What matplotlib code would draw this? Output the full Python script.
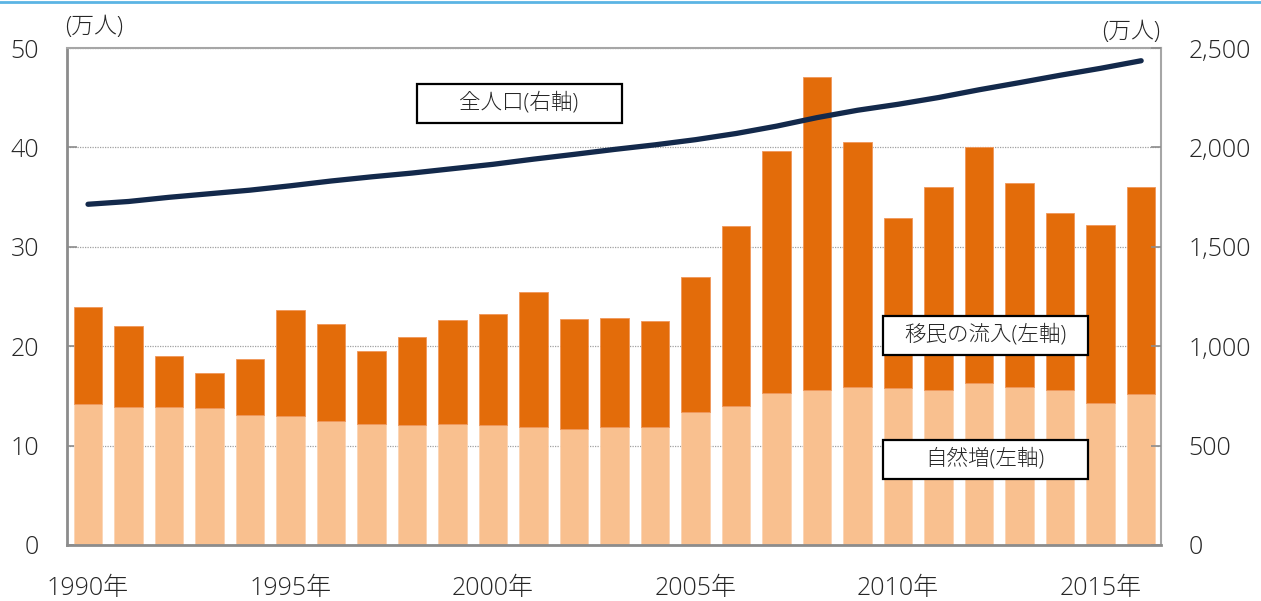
import matplotlib.pyplot as plt
from matplotlib.patches import Rectangle
from matplotlib.lines import Line2D
from matplotlib.ticker import FuncFormatter

plt.rcParams['font.family'] = ['Open Sans', 'Noto Sans CJK JP', 'DejaVu Sans']
plt.rcParams['font.weight'] = 'light'

years = list(range(1990, 2017))
# 自然増 (万人)
natural = [14.2, 13.9, 13.9, 13.8, 13.1, 13.0, 12.45, 12.2, 12.1, 12.2,
           12.1, 11.85, 11.65, 11.85, 11.85, 13.35, 13.95, 15.3, 15.55, 15.9,
           15.75, 15.55, 16.25, 15.85, 15.6, 14.3, 15.2]
# 移民の流入 (万人)
migration = [9.7, 8.15, 5.1, 3.5, 5.6, 10.6, 9.75, 7.3, 8.85, 10.4,
             11.15, 13.65, 11.05, 11.0, 10.65, 13.65, 18.15, 24.35, 31.5, 24.6,
             17.15, 20.5, 23.75, 20.55, 17.85, 17.85, 20.85]
# 全人口 (万人, 右軸)
population = [1714, 1728, 1749, 1767, 1785, 1807, 1831, 1852, 1871, 1893,
              1915, 1941, 1965, 1990, 2013, 2039, 2070, 2107, 2150, 2187,
              2217, 2251, 2290, 2326, 2363, 2398, 2436]
tick_years = [1990, 1995, 2000, 2005, 2010, 2015]

c_nat = '#F9C08F'
c_mig = '#E36C0A'
c_pop = '#13294B'
c_axis = '#8C8C8C'
c_text = '#262626'

fig = plt.figure(figsize=(12.61, 6.01), dpi=100)
ax = fig.add_axes([0.0531, 0.0932, 0.8676, 0.8269])
x = list(range(len(years)))

ax.bar(x, natural, width=0.7, color=c_nat, edgecolor='#FBD5B5', linewidth=0.6, zorder=2)
ax.bar(x, migration, width=0.7, bottom=natural, color=c_mig, edgecolor='#F0965A',
       linewidth=0.6, zorder=2)

ax.set_xlim(-0.52, len(years) - 0.51)
ax.set_ylim(0, 50)
ax.set_yticks([0, 10, 20, 30, 40, 50])
ax.yaxis.grid(True, linestyle=(0, (1, 1)), color='#A0A0A0', linewidth=0.9, zorder=0)
ax.set_axisbelow(True)
ax.set_xticks([years.index(y) for y in tick_years])
ax.set_xticklabels([f'{y}年' for y in tick_years])
ax.tick_params(axis='x', length=0, pad=22, labelsize=18, colors=c_text)
ax.tick_params(axis='y', direction='in', length=7, width=1.2, color=c_axis,
               pad=20, labelsize=18, labelcolor=c_text)

for s in ['left', 'bottom']:
    ax.spines[s].set_color(c_axis)
    ax.spines[s].set_linewidth(2)
for s in ['top', 'right']:
    ax.spines[s].set_color('#A6A6A6')
    ax.spines[s].set_linewidth(1.5)

ax2 = ax.twinx()
ax2.plot(x, population, color=c_pop, linewidth=3.8, solid_capstyle='round', zorder=3)
ax2.set_ylim(0, 2500)
ax2.set_yticks([0, 500, 1000, 1500, 2000, 2500])
ax2.yaxis.set_major_formatter(FuncFormatter(lambda v, p: f'{int(v):,}'))
ax2.tick_params(axis='y', direction='in', length=7, width=1.2, color=c_axis,
                pad=20, labelsize=18, labelcolor=c_text)
for s in ax2.spines.values():
    s.set_visible(False)

# 単位
fig.text(65 / 1261, 1 - 27 / 601, '(万人)', fontsize=16.5, ha='left', va='center', color=c_text)
fig.text(1160 / 1261, 1 - 32 / 601, '(万人)', fontsize=16.5, ha='right', va='center', color=c_text)

# ラベルの枠
W, H = 1261, 601
for (cx, cy, label) in [(519, 103, '全人口(右軸)'),
                        (985, 335, '移民の流入(左軸)'),
                        (985, 459, '自然増(左軸)')]:
    bw, bh = 205, 39
    fig.patches.append(Rectangle(((cx - bw / 2) / W, 1 - (cy + bh / 2) / H), bw / W, bh / H,
                                 transform=fig.transFigure, facecolor='white',
                                 edgecolor='black', linewidth=1.6, zorder=5))
    fig.text(cx / W, 1 - cy / H, label, fontsize=15.5, ha='center', va='center',
             color=c_text, zorder=6)

# 上端の青線
fig.lines.append(Line2D([0, 1], [1 - 1.5 / H, 1 - 1.5 / H], transform=fig.transFigure,
                        color='#5BB4E4', linewidth=2))

fig.savefig('out.png', dpi=100)
